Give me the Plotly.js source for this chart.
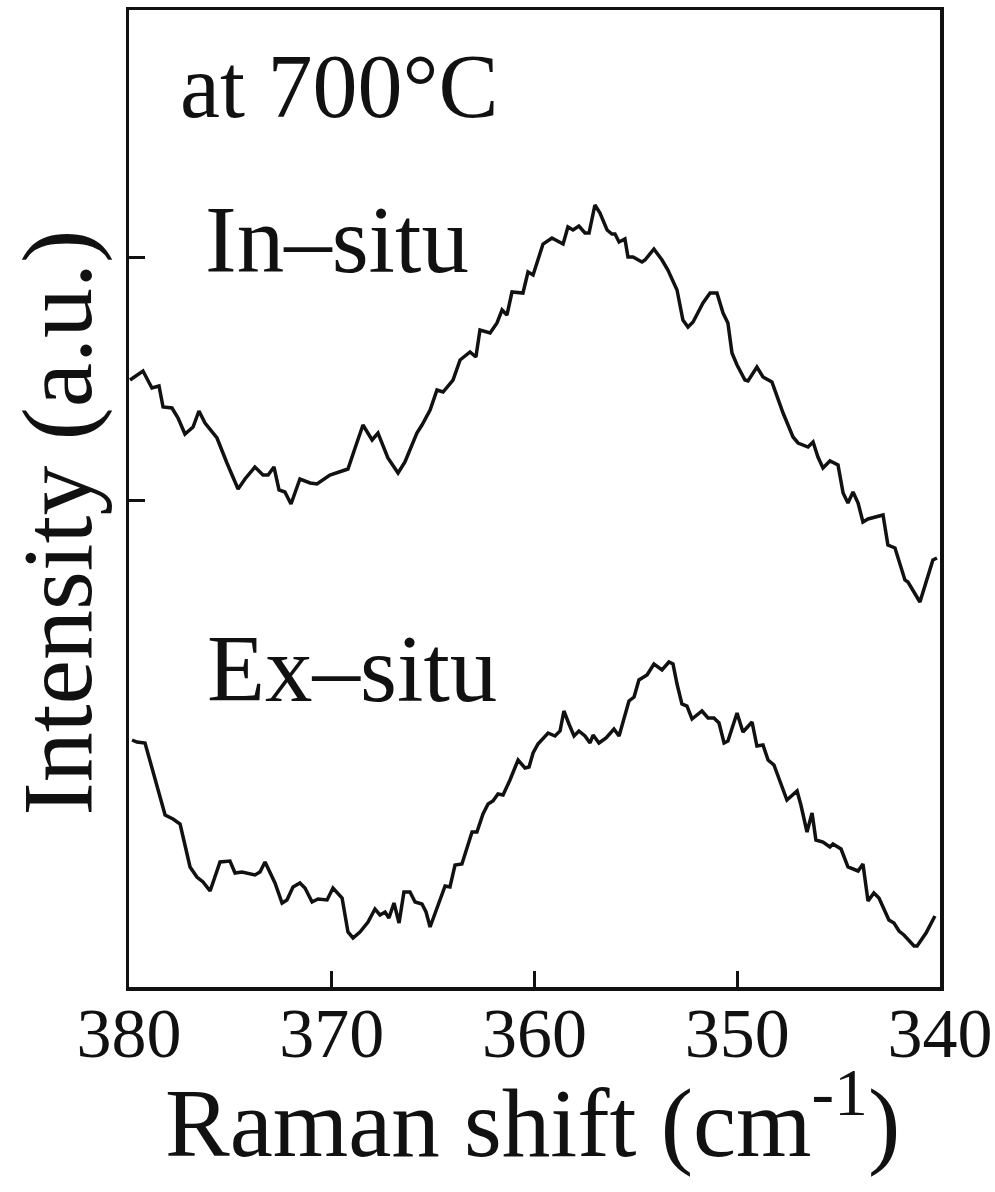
<!DOCTYPE html>
<html>
<head>
<meta charset="utf-8">
<script src="https://cdn.plot.ly/plotly-3.0.1.min.js"></script>
<style>html,body{margin:0;padding:0;background:#fff;}#chart{width:995px;height:1192px;}</style>
</head>
<body>
<div id="chart"></div>
<script>
// Raman shift (cm^-1) and intensity (a.u., arbitrary offset units)
var inSituShift = [379.95,379.31,378.87,378.52,378.32,377.88,377.58,377.24,376.84,376.55,376.25,375.66,375.17,374.62,374.28,373.79,373.39,373.14,372.85,372.60,372.31,372.01,371.57,371.07,370.73,370.09,369.49,369.20,368.85,368.46,368.01,367.72,367.23,366.73,366.39,365.80,365.55,365.15,364.81,364.51,364.02,363.67,363.18,362.89,362.69,362.19,361.85,361.60,361.36,361.11,360.57,360.32,360.07,359.58,359.14,358.59,358.35,358.10,357.81,357.51,357.31,357.02,356.77,356.42,356.18,356.03,355.83,355.54,355.39,355.14,354.70,354.55,354.11,353.71,353.42,352.97,352.68,352.43,352.18,351.69,351.34,351.00,350.70,350.46,350.26,350.01,349.62,349.47,349.03,348.73,348.29,347.74,347.25,347.00,346.51,346.26,346.02,345.77,345.43,345.03,344.78,344.54,344.29,344.04,343.80,343.55,342.81,342.57,342.22,341.73,341.58,340.99,340.35,340.15];
var inSituInt = [605,614,597,599,578,577,567,551,558,574,562,547,522,496,506,518,510,510,518,495,493,481,506,502,501,510,514,516,537,560,545,552,527,512,523,552,560,575,595,593,605,625,633,628,655,652,662,675,670,693,692,713,710,741,747,741,758,755,759,752,752,780,772,755,751,751,743,746,728,728,723,725,736,725,715,695,665,658,663,682,692,692,672,662,632,620,605,604,618,608,603,572,548,542,538,543,528,517,524,520,492,482,493,482,463,466,470,440,437,405,403,383,425,427];

var exSituShift = [379.85,379.61,379.21,378.87,378.57,378.22,377.83,377.48,377.24,376.99,376.65,376.35,376.00,375.76,375.51,375.02,374.77,374.43,373.79,373.54,373.29,372.80,372.45,372.21,371.91,371.57,371.32,370.97,370.68,370.23,369.94,369.49,369.20,368.95,368.61,368.21,367.87,367.62,367.37,367.18,366.93,366.68,366.44,366.14,365.89,365.55,365.35,365.15,364.81,364.41,364.17,363.92,363.58,363.08,362.84,362.54,362.29,362.05,361.80,361.55,361.21,360.81,360.47,360.27,360.07,359.83,359.33,358.99,358.74,358.55,358.30,358.05,357.81,357.51,357.26,357.11,356.82,356.47,356.08,355.83,355.34,355.09,354.85,354.45,354.11,353.71,353.37,353.17,352.97,352.73,352.48,352.23,351.74,351.44,351.15,350.90,350.65,350.46,350.01,349.72,349.27,349.03,348.73,348.48,348.19,347.55,347.05,346.86,346.56,346.31,346.12,345.77,345.43,345.28,344.88,344.54,344.04,343.80,343.55,343.26,343.01,342.52,342.27,342.02,341.78,341.28,341.13,340.69,340.25];
var exSituInt = [245,243,242,218,197,170,166,161,140,118,108,103,94,108,123,124,112,113,110,113,123,102,82,85,98,102,97,83,86,85,97,87,53,47,53,63,76,70,73,67,82,62,93,93,83,81,73,58,78,99,98,120,121,153,153,171,181,184,191,190,205,225,217,218,232,241,252,249,254,274,261,249,254,249,242,250,242,247,256,249,284,288,305,310,321,315,323,321,301,281,279,266,274,267,267,262,242,244,272,253,263,239,240,225,220,185,194,180,153,172,145,143,138,141,136,118,114,121,84,92,87,65,62,54,50,39,39,52,69];

var xTickVals = [380, 370, 360, 350, 340];
var xTickText = ['380', '370', '360', '350', '340'];
var yTickVals = [485, 728];

var serif = 'Liberation Serif, Times New Roman, serif';
var lineStyle = {color: '#111', width: 3.5};

var traces = [
  {x: inSituShift, y: inSituInt, mode: 'lines', line: lineStyle, name: 'In-situ', hoverinfo: 'skip'},
  {x: exSituShift, y: exSituInt, mode: 'lines', line: lineStyle, name: 'Ex-situ', hoverinfo: 'skip'}
];

var layout = {
  width: 995, height: 1192,
  margin: {l: 129, r: 55, t: 10, b: 205},
  paper_bgcolor: '#fff', plot_bgcolor: '#fff',
  showlegend: false,
  xaxis: {
    range: [380, 340],
    tickvals: xTickVals, ticktext: xTickText,
    ticks: 'inside', ticklen: 16, tickwidth: 3, tickcolor: '#111',
    showline: true, linewidth: 3.5, linecolor: '#111', mirror: true,
    showgrid: false, zeroline: false,
    tickfont: {family: serif, size: 70, color: '#111'},
    ticklabelstandoff: -18
  },
  yaxis: {
    range: [-2, 975],
    tickvals: yTickVals, showticklabels: false,
    ticks: 'inside', ticklen: 16, tickwidth: 3, tickcolor: '#111',
    showline: true, linewidth: 3.5, linecolor: '#111', mirror: true,
    showgrid: false, zeroline: false
  },
  annotations: [
    {text: 'at 700°C', xref: 'paper', yref: 'paper', x: 0.060, y: 0.922, xanchor: 'left', yanchor: 'middle', showarrow: false, font: {family: serif, size: 90, color: '#111'}},
    {text: 'In–situ', xref: 'paper', yref: 'paper', x: 0.091, y: 0.765, xanchor: 'left', yanchor: 'middle', showarrow: false, font: {family: serif, size: 95, color: '#111'}},
    {text: 'Ex–situ', xref: 'paper', yref: 'paper', x: 0.094, y: 0.325, xanchor: 'left', yanchor: 'middle', showarrow: false, font: {family: serif, size: 95, color: '#111'}},
    {text: 'Intensity (a.u.)', xref: 'paper', yref: 'paper', x: -0.088, y: 0.475, xanchor: 'center', yanchor: 'middle', textangle: -90, showarrow: false, font: {family: serif, size: 100, color: '#111'}},
    {text: 'Raman shift (cm<sup>-1</sup>)', xref: 'paper', yref: 'paper', x: 0.497, y: -0.132, xanchor: 'center', yanchor: 'middle', showarrow: false, font: {family: serif, size: 97, color: '#111'}}
  ]
};

Plotly.newPlot('chart', traces, layout, {staticPlot: true, displayModeBar: false});
</script>
</body>
</html>
